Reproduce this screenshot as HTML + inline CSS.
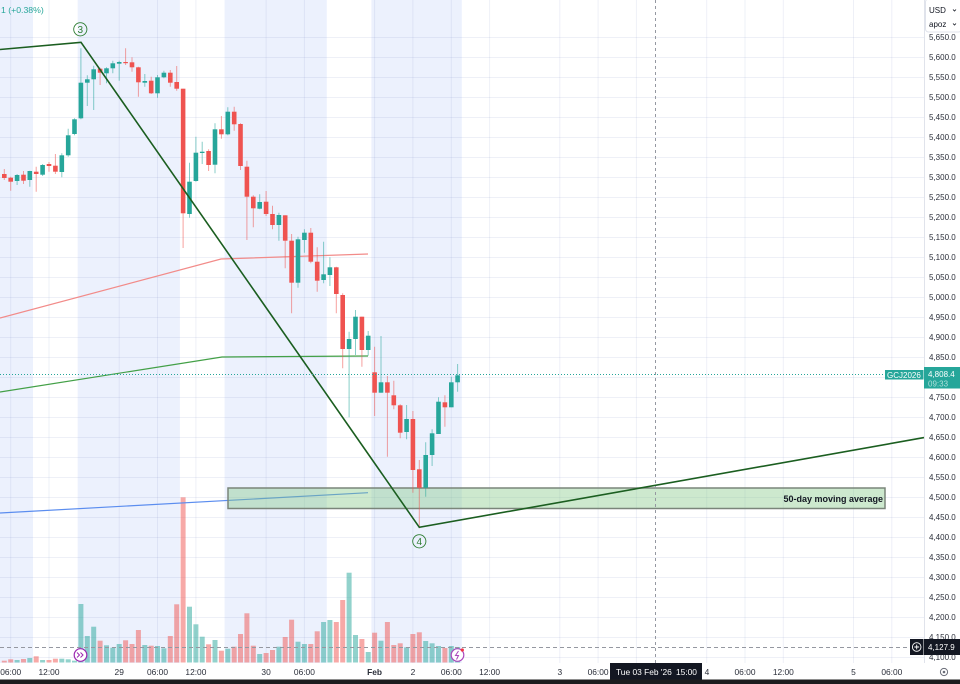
<!DOCTYPE html>
<html>
<head>
<meta charset="utf-8">
<style>
html,body{margin:0;padding:0;background:#fff;}
svg{display:block;font-family:"Liberation Sans",sans-serif;}
.gb{fill:#26a69a}
.rb{fill:#ef5350}
.gv{fill:rgba(38,166,154,0.5)}
.rv{fill:rgba(239,83,80,0.5)}
.pl{font-size:8px;fill:#2a2e39}
.tl{font-size:8.4px;fill:#2a2e39;text-anchor:middle}
</style>
</head>
<body>
<svg width="960" height="684" viewBox="0 0 960 684" xmlns="http://www.w3.org/2000/svg">
<rect x="0" y="0" width="960" height="684" fill="#fff"/>
<!-- session shading -->
<g fill="#ecf1fd">
<rect x="0" y="0" width="33" height="663"/>
<rect x="77.7" y="0" width="102.2" height="663"/>
<rect x="224.6" y="0" width="102.2" height="663"/>
<rect x="371.4" y="0" width="90.4" height="663"/>
</g>
<!-- grid -->
<g stroke="rgba(120,140,190,0.13)" stroke-width="1">
<path d="M0 37.5H924M0 57.5H924M0 77.5H924M0 97.5H924M0 117.5H924M0 137.5H924M0 157.5H924M0 177.5H924M0 197.5H924M0 217.5H924M0 237.5H924M0 257.5H924M0 277.5H924M0 297.5H924M0 317.5H924M0 337.5H924M0 357.5H924M0 377.5H924M0 397.5H924M0 417.5H924M0 437.5H924M0 457.5H924M0 477.5H924M0 497.5H924M0 517.5H924M0 537.5H924M0 557.5H924M0 577.5H924M0 597.5H924M0 617.5H924M0 637.5H924M0 657.5H924"/>
<path d="M10.7 0V663M49 0V663M119.2 0V663M157.5 0V663M195.9 0V663M266.1 0V663M304.4 0V663M374.6 0V663M412.9 0V663M451.3 0V663M489.6 0V663M559.8 0V663M598.1 0V663M636.4 0V663M706.7 0V663M745 0V663M783.3 0V663M853.5 0V663M891.8 0V663"/>
</g>

<!-- volume -->
<g class="gv">
<rect x="14.6" y="660" width="5" height="2.5"/><rect x="27.3" y="658" width="5" height="4.5"/><rect x="40.1" y="660" width="5" height="2.5"/><rect x="59.3" y="658.7" width="5" height="3.8"/><rect x="65.7" y="659.3" width="5" height="3.2"/><rect x="72" y="660.7" width="5" height="1.8"/><rect x="78.4" y="604" width="5" height="58.5"/><rect x="84.8" y="636" width="5" height="26.5"/><rect x="91.2" y="626.7" width="5" height="35.8"/><rect x="104" y="645.3" width="5" height="17.2"/><rect x="110.3" y="647.7" width="5" height="14.8"/><rect x="116.7" y="644" width="5" height="18.5"/><rect x="142.3" y="645" width="5" height="17.5"/><rect x="155" y="646" width="5" height="16.5"/><rect x="161.4" y="648.3" width="5" height="14.2"/><rect x="187" y="606.7" width="5" height="55.8"/><rect x="193.4" y="624.3" width="5" height="38.2"/><rect x="199.7" y="636.7" width="5" height="25.8"/><rect x="212.5" y="640" width="5" height="22.5"/><rect x="225.3" y="648.7" width="5" height="13.8"/><rect x="257.2" y="654" width="5" height="8.5"/><rect x="276.4" y="646.7" width="5" height="15.8"/><rect x="295.5" y="641.7" width="5" height="20.8"/><rect x="301.9" y="644" width="5" height="18.5"/><rect x="321.1" y="622" width="5" height="40.5"/><rect x="327.4" y="620" width="5" height="42.5"/><rect x="346.6" y="572.7" width="5" height="89.8"/><rect x="353" y="635" width="5" height="27.5"/><rect x="365.7" y="652" width="5" height="10.5"/><rect x="378.5" y="640.7" width="5" height="21.8"/><rect x="404.1" y="647.3" width="5" height="15.2"/><rect x="423.2" y="641" width="5" height="21.5"/><rect x="429.6" y="643.3" width="5" height="19.2"/><rect x="436" y="646" width="5" height="16.5"/><rect x="448.8" y="646" width="5" height="16.5"/><rect x="455.1" y="647" width="5" height="15.5"/>
</g>
<g class="rv">
<rect x="1.8" y="660.7" width="5" height="1.8"/><rect x="8.2" y="659.3" width="5" height="3.2"/><rect x="21" y="659" width="5" height="3.5"/><rect x="33.7" y="656.3" width="5" height="6.2"/><rect x="46.5" y="660" width="5" height="2.5"/><rect x="52.9" y="658.7" width="5" height="3.8"/><rect x="97.6" y="640.7" width="5" height="21.8"/><rect x="123.1" y="640.3" width="5" height="22.2"/><rect x="129.5" y="644" width="5" height="18.5"/><rect x="135.9" y="630" width="5" height="32.5"/><rect x="148.7" y="645.7" width="5" height="16.8"/><rect x="167.8" y="636" width="5" height="26.5"/><rect x="174.2" y="604.3" width="5" height="58.2"/><rect x="180.6" y="497.3" width="5" height="165.2"/><rect x="206.1" y="644.3" width="5" height="18.2"/><rect x="218.9" y="650.7" width="5" height="11.8"/><rect x="231.7" y="646.7" width="5" height="15.8"/><rect x="238" y="634" width="5" height="28.5"/><rect x="244.4" y="613.3" width="5" height="49.2"/><rect x="250.8" y="645.7" width="5" height="16.8"/><rect x="263.6" y="653" width="5" height="9.5"/><rect x="270" y="650" width="5" height="12.5"/><rect x="282.7" y="637" width="5" height="25.5"/><rect x="289.1" y="619.7" width="5" height="42.8"/><rect x="308.3" y="644" width="5" height="18.5"/><rect x="314.7" y="631.3" width="5" height="31.2"/><rect x="333.8" y="622" width="5" height="40.5"/><rect x="340.2" y="600" width="5" height="62.5"/><rect x="359.4" y="639" width="5" height="23.5"/><rect x="372.1" y="632.7" width="5" height="29.8"/><rect x="384.9" y="622" width="5" height="40.5"/><rect x="391.3" y="645" width="5" height="17.5"/><rect x="397.7" y="643.3" width="5" height="19.2"/><rect x="410.4" y="634" width="5" height="28.5"/><rect x="416.8" y="632.3" width="5" height="30.2"/><rect x="442.4" y="648" width="5" height="14.5"/>
</g>

<!-- moving averages -->
<polyline points="0,318 221,259 368,254" fill="none" stroke="#f28b89" stroke-width="1.2"/>
<polyline points="0,392 222,357 368,356" fill="none" stroke="#43a047" stroke-width="1.2"/>
<polyline points="0,513 368,492.7" fill="none" stroke="#5b8def" stroke-width="1.2"/>

<!-- 50-day box -->
<rect x="228" y="488" width="657" height="20.5" fill="rgba(129,199,132,0.4)" stroke="#7a857a" stroke-width="1.5"/>
<text x="883" y="502" font-size="9" font-weight="bold" fill="#131722" text-anchor="end">50-day moving average</text>

<!-- wicks -->
<path fill="none" stroke="rgba(38,166,154,0.55)" stroke-width="1" d="M17.1 174V185M29.8 170.7V186.7M42.6 164V176M61.8 153.3V177.3M68.2 128.7V156.7M74.5 118.3V135.3M80.9 48.3V119.3M87.3 75.3V106M93.7 65.7V110M106.5 67.3V83.3M112.8 60.7V73.3M119.2 60.7V80.7M144.8 74V86.7M157.5 75V97.7M163.9 70.7V78.3M189.5 162.7V217.7M195.9 136.7V181.7M202.2 141.7V164M215 123.3V173.3M227.8 107.3V135.3M259.7 194.3V209.3M278.9 212.7V240.7M298 236.7V287.7M304.4 229.3V252.7M323.6 241.7V283.3M329.9 257.3V286M349.1 331.7V417.3M355.5 310V355M368.2 331V355.7M381 336V392.7M406.6 405V439.3M425.7 442.3V496.7M432.1 429.3V466M438.5 397.3V434M451.3 376.7V407.3M457.6 364V391.7"/>
<path fill="none" stroke="rgba(239,83,80,0.55)" stroke-width="1" d="M4.3 169V180M10.7 176.7V190.7M23.5 171V184M36.2 166.7V191.7M49 162V171.7M55.4 154V174M100.1 67.7V85M125.6 48.3V65M132 57.3V71.7M138.4 66.7V96.7M151.2 76.7V94M170.3 70V86.7M176.7 66V90.7M183.1 88.7V248M208.6 149.3V171M221.4 116V138.7M234.2 106.7V130.7M240.5 123.3V170M246.9 160.7V240M253.3 195.3V227.3M266.1 191V216M272.5 205.7V229.3M285.2 215.3V268.3M291.6 234V313.3M310.8 228V263.3M317.2 247.3V291.7M336.3 266.7V313.3M342.7 293.3V368.3M361.9 316.7V366.7M374.6 346.7V416M387.4 376V456.7M393.8 380.7V409.3M400.2 404.3V438.3M412.9 411V492.7M419.3 460V528.3M444.9 395.3V426.7"/>

<!-- bodies -->
<g class="gb">
<rect x="14.8" y="175" width="4.6" height="6"/><rect x="27.5" y="171" width="4.6" height="9"/><rect x="40.3" y="165" width="4.6" height="9.7"/><rect x="59.5" y="155.3" width="4.6" height="16.7"/><rect x="65.9" y="135.3" width="4.6" height="20"/><rect x="72.2" y="119.3" width="4.6" height="14.7"/><rect x="78.6" y="82.7" width="4.6" height="35.6"/><rect x="85" y="79.3" width="4.6" height="3.4"/><rect x="91.4" y="69.3" width="4.6" height="10"/><rect x="104.2" y="68.3" width="4.6" height="5"/><rect x="110.5" y="63.3" width="4.6" height="5"/><rect x="116.9" y="62" width="4.6" height="1.7"/><rect x="142.5" y="81" width="4.6" height="1.7"/><rect x="155.2" y="77.3" width="4.6" height="16"/><rect x="161.6" y="72.7" width="4.6" height="4.6"/><rect x="187.2" y="181.7" width="4.6" height="32.3"/><rect x="193.6" y="152.7" width="4.6" height="28.3"/><rect x="199.9" y="151.7" width="4.6" height="1.3"/><rect x="212.7" y="129.3" width="4.6" height="35.4"/><rect x="225.5" y="111.7" width="4.6" height="22.6"/><rect x="257.4" y="202" width="4.6" height="6.7"/><rect x="276.6" y="215" width="4.6" height="10"/><rect x="295.7" y="239.3" width="4.6" height="43.4"/><rect x="302.1" y="232.7" width="4.6" height="7.3"/><rect x="321.3" y="274.3" width="4.6" height="5.7"/><rect x="327.6" y="267.3" width="4.6" height="7.7"/><rect x="346.8" y="339" width="4.6" height="10"/><rect x="353.2" y="316.7" width="4.6" height="22.3"/><rect x="365.9" y="335.7" width="4.6" height="14.3"/><rect x="378.7" y="382.3" width="4.6" height="10.4"/><rect x="404.3" y="419" width="4.6" height="13"/><rect x="423.4" y="455" width="4.6" height="32.7"/><rect x="429.8" y="433.3" width="4.6" height="21.7"/><rect x="436.2" y="401.7" width="4.6" height="32.3"/><rect x="449" y="382.3" width="4.6" height="25"/><rect x="455.3" y="375.3" width="4.6" height="7"/>
</g>
<g class="rb">
<rect x="2" y="174" width="4.6" height="4"/><rect x="8.4" y="177.7" width="4.6" height="4"/><rect x="21.2" y="174.7" width="4.6" height="6"/><rect x="33.9" y="171.7" width="4.6" height="2.3"/><rect x="46.7" y="164" width="4.6" height="2"/><rect x="53.1" y="165.7" width="4.6" height="6"/><rect x="97.8" y="68.7" width="4.6" height="4"/><rect x="123.3" y="62" width="4.6" height="1.2"/><rect x="129.7" y="62.3" width="4.6" height="5"/><rect x="136.1" y="67.3" width="4.6" height="15"/><rect x="148.9" y="80.7" width="4.6" height="12.6"/><rect x="168" y="72.7" width="4.6" height="10"/><rect x="174.4" y="82" width="4.6" height="6.7"/><rect x="180.8" y="88.7" width="4.6" height="124.6"/><rect x="206.3" y="151" width="4.6" height="14"/><rect x="219.1" y="129.3" width="4.6" height="5"/><rect x="231.9" y="111.7" width="4.6" height="12.6"/><rect x="238.2" y="124" width="4.6" height="42"/><rect x="244.6" y="166.7" width="4.6" height="30"/><rect x="251" y="196.7" width="4.6" height="11.6"/><rect x="263.8" y="201.7" width="4.6" height="12.3"/><rect x="270.2" y="214" width="4.6" height="11"/><rect x="282.9" y="215.3" width="4.6" height="25.4"/><rect x="289.3" y="240.7" width="4.6" height="42"/><rect x="308.5" y="232.7" width="4.6" height="29"/><rect x="314.9" y="261.7" width="4.6" height="19"/><rect x="334" y="267.3" width="4.6" height="26.7"/><rect x="340.4" y="295" width="4.6" height="54"/><rect x="359.6" y="316.7" width="4.6" height="33.3"/><rect x="372.3" y="372.3" width="4.6" height="20.4"/><rect x="385.1" y="382.3" width="4.6" height="10.4"/><rect x="391.5" y="395.3" width="4.6" height="10"/><rect x="397.9" y="405.3" width="4.6" height="27.4"/><rect x="410.6" y="419" width="4.6" height="51"/><rect x="417" y="469.3" width="4.6" height="18.4"/><rect x="442.6" y="402.3" width="4.6" height="5"/>
</g>

<!-- zigzag -->
<polyline points="0,49.5 81,42.3 419.3,527.3 924,437.6" fill="none" stroke="#1b5e20" stroke-width="1.6"/>
<circle cx="80.3" cy="29.3" r="6.6" fill="none" stroke="#2e7d32" stroke-width="0.9"/>
<text x="80.3" y="33" font-size="10" fill="#2e7d32" text-anchor="middle">3</text>
<circle cx="419.3" cy="541.3" r="6.6" fill="none" stroke="#2e7d32" stroke-width="0.9"/>
<text x="419.3" y="545" font-size="10" fill="#2e7d32" text-anchor="middle">4</text>

<!-- current price line -->
<path d="M0 374.5H885" stroke="#26a69a" stroke-width="1" stroke-dasharray="1 2"/>
<!-- crosshair -->
<path d="M655.5 0V663" stroke="#9598a1" stroke-width="1" stroke-dasharray="3 3"/>
<path d="M0 647.5H910" stroke="#9598a1" stroke-width="1" stroke-dasharray="4 3"/>

<!-- top-left text -->
<text x="1" y="13" font-size="8.7" fill="#26a69a">1 (+0.38%)</text>

<!-- bottom icons -->
<circle cx="80.5" cy="655" r="6.3" fill="#fff" stroke="#9c27b0" stroke-width="1.2"/>
<path d="M77 652.5l2.5 2.5-2.5 2.5M80.5 652.5l2.5 2.5-2.5 2.5" fill="none" stroke="#9c27b0" stroke-width="1"/>
<circle cx="457.5" cy="655" r="6.3" fill="#fff" stroke="#ab47bc" stroke-width="1.2"/>
<path d="M458.5 651l-3 4.5h3l-2 4" fill="none" stroke="#ab47bc" stroke-width="1"/>
<circle cx="462.3" cy="650" r="1.6" fill="#f23645"/>

<!-- right axis -->
<rect x="924" y="0" width="36" height="663" fill="#fff"/>
<path d="M924.5 0V663" stroke="#e0e3eb" stroke-width="1"/>
<g class="pl">
<text x="929" y="40">5,650.0</text><text x="929" y="60">5,600.0</text><text x="929" y="80">5,550.0</text><text x="929" y="100">5,500.0</text><text x="929" y="120">5,450.0</text><text x="929" y="140">5,400.0</text><text x="929" y="160">5,350.0</text><text x="929" y="180">5,300.0</text><text x="929" y="200">5,250.0</text><text x="929" y="220">5,200.0</text><text x="929" y="240">5,150.0</text><text x="929" y="260">5,100.0</text><text x="929" y="280">5,050.0</text><text x="929" y="300">5,000.0</text><text x="929" y="320">4,950.0</text><text x="929" y="340">4,900.0</text><text x="929" y="360">4,850.0</text><text x="929" y="400">4,750.0</text><text x="929" y="420">4,700.0</text><text x="929" y="440">4,650.0</text><text x="929" y="460">4,600.0</text><text x="929" y="480">4,550.0</text><text x="929" y="500">4,500.0</text><text x="929" y="520">4,450.0</text><text x="929" y="540">4,400.0</text><text x="929" y="560">4,350.0</text><text x="929" y="580">4,300.0</text><text x="929" y="600">4,250.0</text><text x="929" y="620">4,200.0</text><text x="929" y="640">4,150.0</text><text x="929" y="660">4,100.0</text>
</g>
<!-- top right dropdown -->
<rect x="925.5" y="-1" width="36" height="33" rx="3" fill="#fff" stroke="#e0e3eb" stroke-width="1"/>
<text x="929" y="13" font-size="8" fill="#131722">USD</text>
<path d="M953 9.5l1.5 1.5 1.5-1.5" fill="none" stroke="#131722" stroke-width="0.8"/>
<text x="929" y="27" font-size="8" fill="#131722">apoz</text>
<path d="M953 23.5l1.5 1.5 1.5-1.5" fill="none" stroke="#131722" stroke-width="0.8"/>

<!-- price label -->
<rect x="885" y="370" width="38.5" height="9.5" fill="#26a69a"/>
<text x="887" y="378" font-size="8" fill="#fff">GCJ2026</text>
<rect x="924" y="367" width="36" height="21.5" fill="#26a69a"/>
<text x="928" y="377" font-size="8" fill="#fff">4,808.4</text>
<text x="928" y="386.5" font-size="8" fill="#b2dfdb">09:33</text>

<!-- crosshair price label -->
<rect x="910" y="639" width="13.5" height="16" fill="#131722"/>
<circle cx="916.7" cy="647" r="4.3" fill="none" stroke="#fff" stroke-width="0.9"/>
<path d="M914.3 647H919.1M916.7 644.6V649.4" stroke="#fff" stroke-width="0.9"/>
<rect x="924" y="639" width="36" height="16" fill="#131722"/>
<text x="928" y="650" font-size="8" fill="#fff">4,127.9</text>

<!-- bottom axis -->
<rect x="0" y="663" width="960" height="17" fill="#fff"/>
<g class="tl">
<text x="10.7" y="675">06:00</text><text x="49" y="675">12:00</text><text x="119.2" y="675">29</text><text x="157.5" y="675">06:00</text><text x="195.9" y="675">12:00</text><text x="266.1" y="675">30</text><text x="304.4" y="675">06:00</text><text x="374.6" y="675" font-weight="bold">Feb</text><text x="412.9" y="675">2</text><text x="451.3" y="675">06:00</text><text x="489.6" y="675">12:00</text><text x="559.8" y="675">3</text><text x="598.1" y="675">06:00</text><text x="707" y="675">4</text><text x="745" y="675">06:00</text><text x="783.3" y="675">12:00</text><text x="853.5" y="675">5</text><text x="891.8" y="675">06:00</text>
</g>
<rect x="610" y="663" width="92" height="17" fill="#131722"/>
<text x="616" y="675" font-size="8.4" fill="#fff">Tue 03 Feb '26</text>
<text x="676" y="675" font-size="8.4" fill="#fff">15:00</text>
<circle cx="944" cy="672" r="3.6" fill="none" stroke="#6a6d78" stroke-width="1"/>
<circle cx="944" cy="672" r="1.3" fill="#6a6d78"/>
<rect x="0" y="679.5" width="960" height="4.5" fill="#1c1c1e"/>
</svg>
</body>
</html>
